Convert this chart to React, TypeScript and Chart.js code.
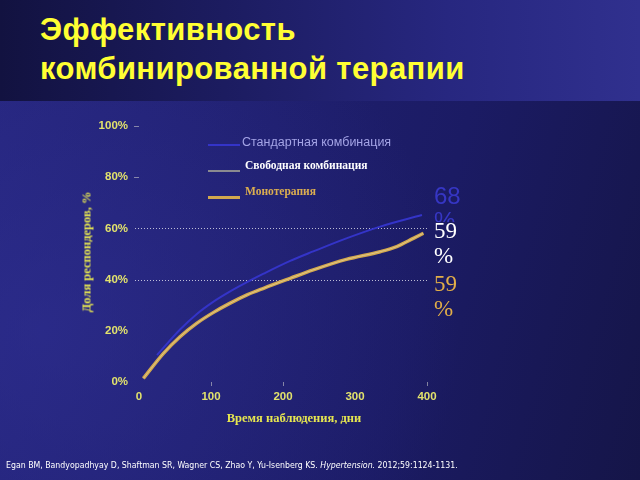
import React, { useEffect, useRef } from "react";
import { Chart, registerables } from "chart.js";

Chart.register(...registerables);

const titleLines = ["Эффективность", "комбинированной терапии"];
const seriesNames = ["Стандартная комбинация", "Свободная комбинация", "Монотерапия"];
const xTicks = [0, 100, 200, 300, 400];
const yTicks = [0, 20, 40, 60, 80, 100];
const dottedGridValues = [40, 60];
const yTitle = "Доля респондеров, %";
const xTitle = "Время наблюдения, дни";
const endLabels = ["68 %", "59 %", "59 %"];
const citation = "Egan BM, Bandyopadhyay D, Shaftman SR, Wagner CS, Zhao Y, Yu-Isenberg KS.";
const citationJournal = "Hypertension.";
const citationTail = " 2012;59:1124-1131.";

const standardDays = [25, 57, 80, 103, 126, 150, 173, 210, 242, 288, 335, 393];
const standardPct = [10.5, 20.5, 26.5, 31.3, 35.3, 39.0, 42.3, 47.3, 51.0, 56.1, 60.7, 65.2];

const freeDays = [6, 34, 57, 80, 103, 126, 150, 173, 210, 242, 288, 335, 358, 381, 395];
const freePct = [1.4, 11.2, 17.7, 22.9, 27.1, 30.7, 34.0, 36.6, 40.5, 43.8, 47.9, 50.9, 52.9, 56.1, 58.1];

const monoDays = [6, 34, 57, 80, 103, 126, 150, 173, 210, 242, 288, 335, 358, 381, 395];
const monoPct = [1.4, 11.2, 17.7, 22.9, 27.1, 30.7, 34.0, 36.6, 40.5, 43.8, 47.9, 50.9, 52.9, 56.1, 58.1];

const seriesColors = ["#3434c8", "#a8a8a0", "#d2a84e"];

function pts(xs: number[], ys: number[]) {
  return xs.map((x, i) => ({ x, y: ys[i] }));
}

const dottedGrid = {
  id: "dottedGrid",
  beforeDatasetsDraw(chart: any) {
    const { ctx, chartArea, scales } = chart;
    ctx.save();
    ctx.strokeStyle = "rgba(255,255,255,0.7)";
    ctx.lineWidth = 1;
    ctx.setLineDash([1, 2]);
    dottedGridValues.forEach((v) => {
      const y = Math.round(scales.y.getPixelForValue(v)) + 0.5;
      ctx.beginPath();
      ctx.moveTo(chartArea.left - 4, y);
      ctx.lineTo(chartArea.right, y);
      ctx.stroke();
    });
    ctx.restore();
  },
};

export default function App() {
  const ref = useRef<HTMLCanvasElement | null>(null);

  useEffect(() => {
    if (!ref.current) return;
    const tickFont = { family: "'Liberation Sans', Arial, sans-serif", size: 11.5, weight: "bold" as const };
    const chart = new Chart(ref.current, {
      type: "line",
      data: {
        datasets: [
          {
            label: seriesNames[0],
            data: pts(standardDays, standardPct),
            borderColor: seriesColors[0],
            borderWidth: 2,
            pointRadius: 0,
            cubicInterpolationMode: "monotone",
            order: 3,
          },
          {
            label: seriesNames[2],
            data: pts(monoDays, monoPct),
            borderColor: seriesColors[2],
            borderWidth: 3.5,
            pointRadius: 0,
            cubicInterpolationMode: "monotone",
            order: 2,
          },
          {
            label: seriesNames[1],
            data: pts(freeDays, freePct),
            borderColor: "rgba(235,225,190,0.5)",
            borderWidth: 1,
            pointRadius: 0,
            cubicInterpolationMode: "monotone",
            order: 1,
          },
        ],
      },
      options: {
        animation: false,
        responsive: false,
        maintainAspectRatio: false,
        layout: { padding: { left: 0, top: 126, right: 213, bottom: 0 } },
        plugins: { legend: { display: false }, tooltip: { enabled: false } },
        scales: {
          x: {
            type: "linear",
            min: 0,
            max: 400,
            afterBuildTicks: (axis: any) => {
              axis.ticks = xTicks.map((v) => ({ value: v }));
            },
            afterFit: (axis: any) => {
              axis.height = 98;
            },
            border: { display: false },
            grid: {
              drawOnChartArea: false,
              tickLength: 4,
              tickColor: (ctx: any) =>
                ctx.tick && ctx.tick.value !== 0 && ctx.tick.value !== 300 ? "rgba(200,200,200,0.6)" : "rgba(0,0,0,0)",
            },
            ticks: { color: "#e2e26c", font: tickFont, padding: 4, maxRotation: 0 },
          },
          y: {
            type: "linear",
            min: 0,
            max: 100,
            afterBuildTicks: (axis: any) => {
              axis.ticks = yTicks.map((v) => ({ value: v }));
            },
            afterFit: (axis: any) => {
              axis.width = 139;
            },
            border: { display: false },
            grid: {
              drawOnChartArea: false,
              tickLength: 5,
              tickColor: (ctx: any) =>
                ctx.tick && ctx.tick.value >= 80 ? "rgba(200,200,200,0.6)" : "rgba(0,0,0,0)",
            },
            ticks: {
              color: "#e2e26c",
              font: tickFont,
              padding: 6,
              callback: (v: any) => v + "%",
            },
          },
        },
      },
      plugins: [dottedGrid],
    } as any);
    return () => chart.destroy();
  }, []);

  const serif = "'Liberation Serif', 'DejaVu Serif', serif";
  const sans = "'Liberation Sans', Arial, sans-serif";

  return (
    <div
      style={{
        position: "fixed",
        left: 0,
        top: 0,
        width: 640,
        height: 480,
        overflow: "hidden",
        background:
          "radial-gradient(ellipse 420px 380px at 40px 330px, rgba(48,48,150,0.55), rgba(0,0,0,0)), linear-gradient(105deg, #26267e 0%, #1f1f6e 40%, #1b1b64 65%, #151548 100%)",
      }}
    >
      <div
        style={{
          position: "absolute",
          left: 0,
          top: 0,
          width: 640,
          height: 101,
          background: "linear-gradient(90deg, #121240 0%, #1c1c60 35%, #272780 70%, #30308e 100%)",
        }}
      />
      <div
        style={{
          position: "absolute",
          left: 40,
          top: 10,
          color: "#ffff33",
          fontFamily: sans,
          fontWeight: "bold",
          fontSize: 31,
          lineHeight: "39px",
          letterSpacing: "0.4px",
          whiteSpace: "nowrap",
        }}
      >
        {titleLines.map((t) => (
          <div key={t}>{t}</div>
        ))}
      </div>
      <canvas ref={ref} width={640} height={480} style={{ position: "absolute", left: 0, top: 0 }} />

      {/* legend */}
      <div style={{ position: "absolute", left: 208, top: 144, width: 32, height: 1.5, background: seriesColors[0] }} />
      <div style={{ position: "absolute", left: 208, top: 170, width: 32, height: 2, background: "#8a8a90" }} />
      <div style={{ position: "absolute", left: 208, top: 196, width: 32, height: 3, background: seriesColors[2] }} />
      <div style={{ position: "absolute", left: 242, top: 135, color: "#a4a4e6", fontFamily: sans, fontSize: 12.5, whiteSpace: "nowrap" }}>
        {seriesNames[0]}
      </div>
      <div style={{ position: "absolute", left: 245, top: 159, color: "#ffffff", fontFamily: serif, fontWeight: "bold", fontSize: 11.5, whiteSpace: "nowrap" }}>
        {seriesNames[1]}
      </div>
      <div style={{ position: "absolute", left: 245, top: 185, color: "#dcae50", fontFamily: serif, fontWeight: "bold", fontSize: 11.5, whiteSpace: "nowrap" }}>
        {seriesNames[2]}
      </div>

      {/* end labels */}
      <div
        style={{
          position: "absolute",
          left: 434,
          top: 183,
          width: 30,
          height: 39,
          overflow: "hidden",
          color: "#3636c4",
          fontFamily: sans,
          fontSize: 24,
          lineHeight: "25px",
          wordBreak: "break-all",
        }}
      >
        {endLabels[0]}
      </div>
      <div style={{ position: "absolute", left: 434, top: 218, width: 26, color: "#ffffff", fontFamily: serif, fontSize: 23, lineHeight: "25px" }}>
        {endLabels[1]}
      </div>
      <div style={{ position: "absolute", left: 434, top: 271, width: 26, color: "#e2ae48", fontFamily: serif, fontSize: 23, lineHeight: "25px" }}>
        {endLabels[2]}
      </div>

      {/* axis titles */}
      <div
        style={{
          position: "absolute",
          left: 87,
          top: 252,
          transform: "translate(-50%, -50%) rotate(-90deg)",
          color: "#e6e650",
          fontFamily: serif,
          fontWeight: "bold",
          fontSize: 12.5,
          whiteSpace: "nowrap",
        }}
      >
        {yTitle}
      </div>
      <div
        style={{
          position: "absolute",
          left: 294,
          top: 418,
          transform: "translate(-50%, -50%)",
          color: "#e6e650",
          fontFamily: serif,
          fontWeight: "bold",
          fontSize: 12.5,
          whiteSpace: "nowrap",
        }}
      >
        {xTitle}
      </div>

      <div
        style={{
          position: "absolute",
          left: 6,
          top: 460,
          color: "#ffffff",
          fontFamily: "'DejaVu Sans Condensed', 'Liberation Sans Narrow', sans-serif",
          fontSize: 8.7,
          whiteSpace: "nowrap",
        }}
      >
        {citation} <i>{citationJournal}</i>
        {citationTail}
      </div>
    </div>
  );
}
